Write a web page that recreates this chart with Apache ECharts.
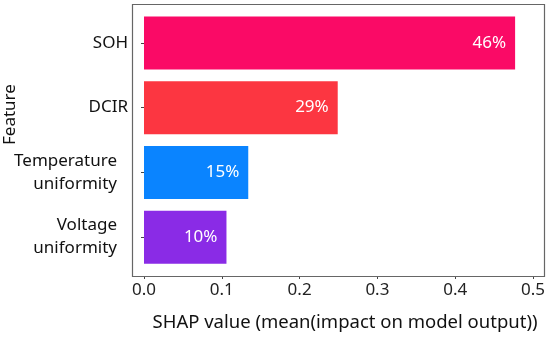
<!DOCTYPE html>
<html><head><meta charset="utf-8">
<script src="https://cdn.jsdelivr.net/npm/echarts@6/dist/echarts.min.js"></script>
<style>html,body{margin:0;padding:0;background:#fff}#c{width:550px;height:337px}</style>
</head><body><div id="c"></div>
<script>
const categories = ['Voltage\nuniformity', 'Temperature\nuniformity', 'DCIR', 'SOH'];
const values = [0.106, 0.134, 0.249, 0.477];
const pctLabels = ['10%', '15%', '29%', '46%'];
const colors = ['#8A2BE6', '#0A84FF', '#FC3641', '#FA0A66'];
const xTicks = [0, 0.1, 0.2, 0.3, 0.4, 0.5];

const FONT = 'Noto Sans';
const chart = echarts.init(document.getElementById('c'), null, {renderer: 'canvas'});
chart.setOption({
  animation: false,
  textStyle: {fontFamily: FONT},
  graphic: [
    {type: 'rect', shape: {x: 132.5, y: 4.5, width: 412, height: 272}, style: {fill: 'none', stroke: '#666', lineWidth: 1.2}, z: 10},
    {type: 'text', style: {text: 'Feature', fontSize: 17, fontFamily: FONT, fill: '#111'}, x: 2, y: 145, rotation: Math.PI / 2}
  ],
  grid: {left: 144, top: 10.5, width: 389, height: 260},
  xAxis: {
    type: 'value', min: xTicks[0], max: xTicks[xTicks.length - 1], interval: 0.1,
    offset: 6.5,
    axisLine: {show: false},
    axisTick: {show: true, length: 3, lineStyle: {color: '#444'}},
    splitLine: {show: false},
    axisLabel: {fontSize: 17, color: '#222', margin: 6, formatter: v => v.toFixed(1)},
    name: 'SHAP value (mean(impact on model output))',
    nameLocation: 'middle', nameGap: 37,
    nameTextStyle: {fontSize: 18.5, color: '#111', padding: [0, 0, 0, 13]}
  },
  yAxis: {
    type: 'category',
    data: categories.map(c => c.indexOf('\n') >= 0
      ? {value: c, textStyle: {padding: [3, 10, 0, 0]}}
      : {value: c, textStyle: {padding: [0, -1, 0, 0]}}),
    offset: 12,
    axisLine: {show: false},
    axisTick: {show: true, length: 3, lineStyle: {color: '#444'}, alignWithLabel: true},
    axisLabel: {fontSize: 17, color: '#111', margin: 5, lineHeight: 23, align: 'right'}
  },
  series: [{
    type: 'bar', barWidth: 53,
    data: values.map((v, i) => ({value: v, itemStyle: {color: colors[i]},
      label: {formatter: pctLabels[i]}})),
    label: {show: true, position: 'insideRight', distance: 9, color: '#fff', fontSize: 17, fontFamily: FONT}
  }]
});
</script></body></html>
